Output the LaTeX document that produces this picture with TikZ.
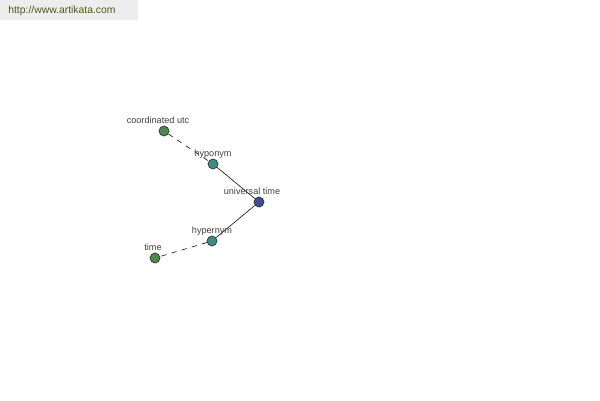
\documentclass[tikz,border=0pt]{standalone}
\usepackage{fontspec}
\setmainfont{Liberation Sans}
\usepackage{tikz}

\definecolor{leafgreen}{HTML}{4E8A4A}
\definecolor{relteal}{HTML}{3A8E88}
\definecolor{rootblue}{HTML}{3F4C9C}
\definecolor{sitegreen}{HTML}{4A5A1E}

\tikzset{
  term/.style={circle,draw=black!80,line width=0.4pt,minimum size=0.2cm,inner sep=0pt},
  word/.style={anchor=base,inner sep=0pt,text=black!75,font=\fontsize{5.2}{6}\selectfont},
  rel/.style={line width=0.4pt,black!85},
  weak/.style={rel,dash pattern=on 3pt off 3pt}
}

\begin{document}
\begin{tikzpicture}[x=0.02cm,y=-0.02cm]
\useasboundingbox (0,0) rectangle (600,400);
\fill[black!7] (0,0) rectangle (138,20);
\node[anchor=west,inner sep=0pt,text=sitegreen,font=\fontsize{5.9}{7}\selectfont] (site) at (8,11) {http://www.artikata.com};

\node[term,fill=leafgreen] (utc) at (164,131) {};
\node[term,fill=relteal] (hypo) at (213,164) {};
\node[term,fill=rootblue] (ut) at (259,202) {};
\node[term,fill=relteal] (hyper) at (212,241) {};
\node[term,fill=leafgreen] (time) at (155,258) {};

\draw[weak] (utc) -- (hypo);
\draw[rel] (hypo) -- (ut);
\draw[rel] (ut) -- (hyper);
\draw[weak] (hyper) -- (time);

\node[word] (utc-l) at (158,123) {coordinated utc};
\node[word] (hypo-l) at (213,156) {hyponym};
\node[word] (ut-l) at (252,194) {universal time};
\node[word] (hyper-l) at (212,233) {hypernym};
\node[word] (time-l) at (153,250) {time};
\end{tikzpicture}
\end{document}
